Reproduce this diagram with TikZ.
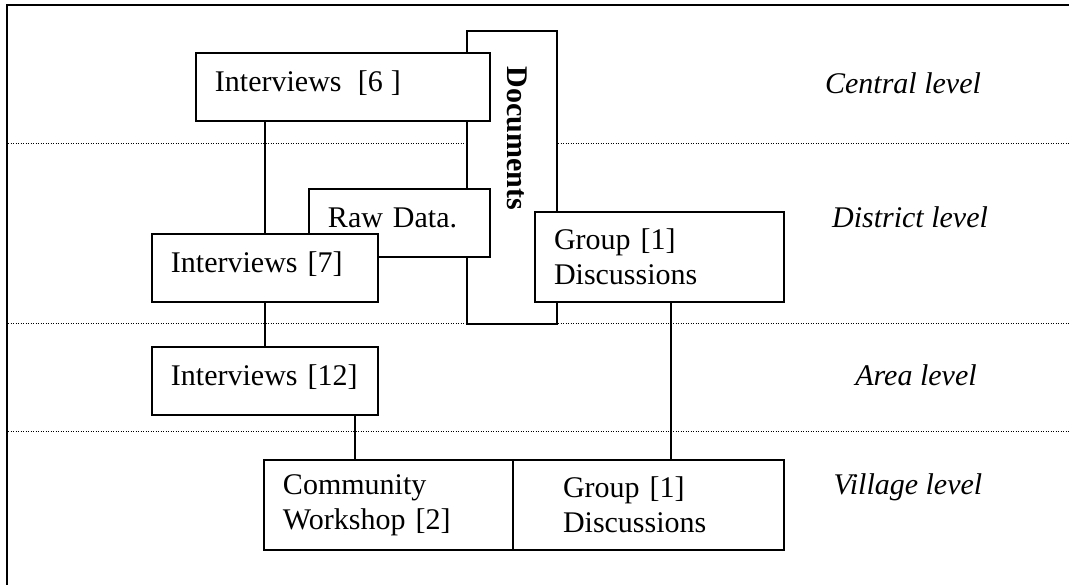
\documentclass[tikz,border=0pt]{standalone}
\usepackage{fontspec}
\setmainfont{Liberation Serif}
\usetikzlibrary{positioning}

\begin{document}
\begin{tikzpicture}[
  x=0.4pt,y=-0.4pt,
  every node/.style={font=\fontsize{12}{14}\selectfont},
  box/.style={draw,line width=0.8pt,fill=white,inner xsep=7.6pt,inner ysep=0pt,
              align=left},
  oneline/.style={text height=9pt,text depth=5.4pt},
  lvltext/.style={font=\fontsize{12}{14}\selectfont\itshape},
  link/.style={line width=0.8pt},
  levelline/.style={line width=0.4pt,dash pattern=on 0.4pt off 0.6pt}
]
\useasboundingbox (0,0) rectangle (1069,585);
\draw[link] (7,585) |- (1069,5);
\foreach \y in {144,324,432}
  \draw[levelline] (8,\y) -- (1069,\y);

\node[box,oneline,rotate=-90,font=\fontsize{12}{14}\selectfont\bfseries,
      inner xsep=14.4pt,text width=88.4pt,minimum height=36pt]
      (docs) at (512,177.5) {Documents};
\node[box,oneline,text width=102.4pt,minimum height=27.2pt] (int6) at (343,87)
      {Interviews\hspace{6.5pt}[6\hspace{3.2pt}]};
\node[box,oneline,text width=57.2pt,minimum height=27.2pt] (raw) at (399.5,223)
      {Raw Data.};
\node[box,oneline,text width=75.2pt,minimum height=27.2pt] (int7) at (265,268)
      {Interviews [7]};
\node[box,text width=84.4pt,minimum height=36pt] (grpD) at (659.5,257)
      {Group [1]\\Discussions};
\node[box,oneline,text width=75.2pt,minimum height=27.2pt] (int12) at (265,381)
      {Interviews [12]};
\node[box,text width=84.4pt,minimum height=36pt] (comm) at (388.5,505)
      {Community\\Workshop [2]};
\node[box,inner xsep=20pt,text width=68.4pt,minimum height=36pt] (grpV) at (648.5,505)
      {Group [1]\\Discussions};

\node[lvltext] (central) at (903,83) {Central level};
\node[lvltext] (district) at (910,217) {District level};
\node[lvltext] (area) at (916,375) {Area level};
\node[lvltext] (village) at (908,487) {Village level};

\coordinate (wk) at (355,0);
\coordinate (gk) at (671,0);
\draw[link] (int7.north |- int6.south) -- (int7.north);
\draw[link] (int7.south) -- (int12.north);
\draw[link] (int12.south -| wk) -- (comm.north -| wk);
\draw[link] (grpD.south -| gk) -- (grpV.north -| gk);
\end{tikzpicture}
\end{document}
